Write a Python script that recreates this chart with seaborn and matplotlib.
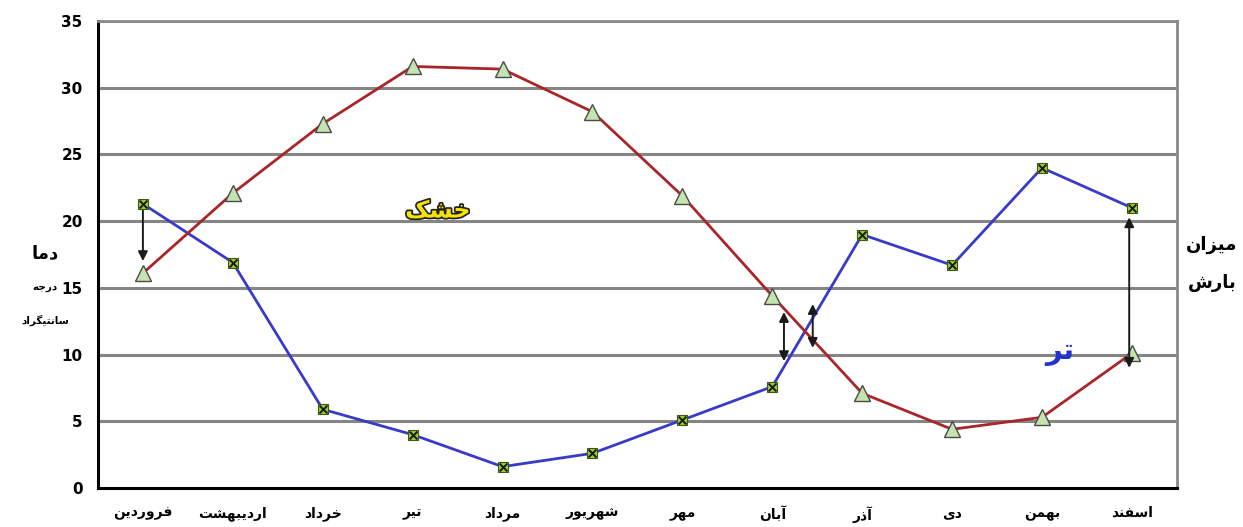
import numpy as np
import pandas as pd
import matplotlib
matplotlib.use("Agg")
import matplotlib.pyplot as plt
import matplotlib.patheffects as pe
import seaborn as sns

# ---- data -------------------------------------------------------------
months = ["فروردین", "اردیبهشت", "خرداد", "تیر", "مرداد", "شهریور",
          "مهر", "آبان", "آذر", "دی", "بهمن", "اسفند"]
temperature = [16.1, 22.1, 27.3, 31.6, 31.4, 28.2, 21.9, 14.4, 7.1, 4.4, 5.3, 10.1]
precipitation = [21.3, 16.9, 5.9, 4.0, 1.6, 2.6, 5.1, 7.6, 19.0, 16.7, 24.0, 21.0]
y_ticks = [0, 5, 10, 15, 20, 25, 30, 35]

# ---- minimal Persian shaping (presentation forms + RTL order) ----------
# forms: (isolated, final, initial, medial); None where the letter does not join forward
FORMS = {
    "ا": ("\uFE8D", "\uFE8E", None, None),
    "آ": ("\uFE81", "\uFE82", None, None),
    "ب": ("\uFE8F", "\uFE90", "\uFE91", "\uFE92"),
    "ت": ("\uFE95", "\uFE96", "\uFE97", "\uFE98"),
    "ج": ("\uFE9D", "\uFE9E", "\uFE9F", "\uFEA0"),
    "خ": ("\uFEA5", "\uFEA6", "\uFEA7", "\uFEA8"),
    "د": ("\uFEA9", "\uFEAA", None, None),
    "ذ": ("\uFEAB", "\uFEAC", None, None),
    "ر": ("\uFEAD", "\uFEAE", None, None),
    "ز": ("\uFEAF", "\uFEB0", None, None),
    "س": ("\uFEB1", "\uFEB2", "\uFEB3", "\uFEB4"),
    "ش": ("\uFEB5", "\uFEB6", "\uFEB7", "\uFEB8"),
    "ف": ("\uFED1", "\uFED2", "\uFED3", "\uFED4"),
    "م": ("\uFEE1", "\uFEE2", "\uFEE3", "\uFEE4"),
    "ن": ("\uFEE5", "\uFEE6", "\uFEE7", "\uFEE8"),
    "ه": ("\uFEE9", "\uFEEA", "\uFEEB", "\uFEEC"),
    "و": ("\uFEED", "\uFEEE", None, None),
    "ی": ("\uFBFC", "\uFBFD", "\uFBFE", "\uFBFF"),
    "گ": ("\uFB92", "\uFB93", "\uFB94", "\uFB95"),
    "ک": ("\uFB8E", "\uFB8F", "\uFB90", "\uFB91"),
}


def fa(text):
    out = []
    n = len(text)
    for i, ch in enumerate(text):
        if ch not in FORMS:
            out.append(ch)
            continue
        prev = text[i - 1] if i > 0 else None
        nxt = text[i + 1] if i < n - 1 else None
        joins_prev = prev in FORMS and FORMS[prev][2] is not None
        joins_next = FORMS[ch][2] is not None and nxt in FORMS
        iso, fin, ini, med = FORMS[ch]
        if joins_prev and joins_next:
            out.append(med)
        elif joins_prev:
            out.append(fin)
        elif joins_next:
            out.append(ini)
        else:
            out.append(iso)
    return "".join(reversed(out))


# ---- figure -----------------------------------------------------------
sns.set_style("white")
plt.rcParams["font.family"] = ["DejaVu Sans"]
plt.rcParams["text.color"] = "black"
plt.rcParams["xtick.color"] = "black"
plt.rcParams["ytick.color"] = "black"

fig = plt.figure(figsize=(12.43, 5.27), dpi=100)
ax = fig.add_axes([0.0788, 0.074, 0.868, 0.886])

x = np.arange(len(months))
df = pd.DataFrame({"pos": x, "temp": temperature, "rain": precipitation})

# horizontal grid
for yv in y_ticks[1:]:
    ax.axhline(yv, color="#858585", lw=2.2, zorder=0.5)

# precipitation line with square markers and an x on top
sns.lineplot(data=df, x="pos", y="rain", ax=ax, color="#3a3ac8", lw=2.0,
             marker="s", markersize=7.5, markerfacecolor="#9acd32",
             markeredgecolor="#3d5a10", markeredgewidth=0.8, zorder=3)
sns.scatterplot(data=df, x="pos", y="rain", ax=ax, marker="x", s=32,
                color="#1a1a1a", linewidth=1.4, zorder=4)

# temperature line with triangle markers
sns.lineplot(data=df, x="pos", y="temp", ax=ax, color="#a8262a", lw=2.0,
             marker="^", markersize=11.5, markerfacecolor="#c3e3b0",
             markeredgecolor="#4a4a4a", markeredgewidth=1.0, zorder=5)

# arrows marking the gap between the two series
arrow_kw = dict(color="#1a1a1a", lw=1.4, mutation_scale=14)
ax.annotate("", xy=(0, temperature[0] + 0.7), xytext=(0, precipitation[0] - 0.3),
            arrowprops=dict(arrowstyle="-|>", **arrow_kw), zorder=6)
ax.annotate("", xy=(7.13, 9.3), xytext=(7.13, 13.4),
            arrowprops=dict(arrowstyle="<|-|>", **arrow_kw), zorder=6)
ax.annotate("", xy=(7.45, 10.3), xytext=(7.45, 14.0),
            arrowprops=dict(arrowstyle="<|-|>", **arrow_kw), zorder=6)
ax.annotate("", xy=(10.97, 8.8), xytext=(10.97, 20.5),
            arrowprops=dict(arrowstyle="<|-|>", **arrow_kw), zorder=6)

# season words
ax.text(3.28, 20.8, fa("خشک"), color="#f5e400", fontsize=17, fontweight="bold",
        ha="center", va="center", zorder=7,
        path_effects=[pe.withStroke(linewidth=2.5, foreground="#222222")])
ax.text(10.2, 10.2, fa("تر"), color="#2233cc", fontsize=21, fontweight="bold",
        ha="center", va="center", zorder=7)

# axes
ax.set_xlim(-0.5, len(months) - 0.5)
ax.set_ylim(0, 35)
ax.set_yticks(y_ticks)
ax.set_yticklabels([str(v) for v in y_ticks], fontsize=11, fontweight="bold")
ax.set_xticks(x)
ax.set_xticklabels([fa(m) for m in months], fontsize=10, fontweight="bold")
ax.set_xticks(np.arange(-0.5, len(months)), minor=True)
ax.tick_params(axis="x", which="major", length=0, pad=13)
ax.tick_params(axis="x", which="minor", length=5, width=1.5, direction="out", color="black")
ax.tick_params(axis="y", length=5, width=1.5, direction="out", color="black", pad=6)
ax.set_xlabel("")
ax.set_ylabel("")

for side in ("left", "bottom"):
    ax.spines[side].set_color("black")
    ax.spines[side].set_linewidth(2.2)
for side in ("top", "right"):
    ax.spines[side].set_visible(True)
    ax.spines[side].set_color("#8a8a8a")
    ax.spines[side].set_linewidth(2.0)

# side titles
fig.text(45 / 1243, 1 - 253 / 527, fa("دما"), fontsize=13, fontweight="bold",
         ha="center", va="center")
fig.text(58 / 1243, 1 - 287 / 527, fa("درجه"), fontsize=7.5, fontweight="bold",
         ha="right", va="center")
fig.text(45 / 1243, 1 - 320 / 527, fa("سانتیگراد"), fontsize=7.5, fontweight="bold",
         ha="center", va="center")
fig.text(1212 / 1243, 1 - 245 / 527, fa("میزان"), fontsize=13, fontweight="bold",
         ha="center", va="center")
fig.text(1212 / 1243, 1 - 283 / 527, fa("بارش"), fontsize=13, fontweight="bold",
         ha="center", va="center")

fig.savefig("out.png", dpi=100)
